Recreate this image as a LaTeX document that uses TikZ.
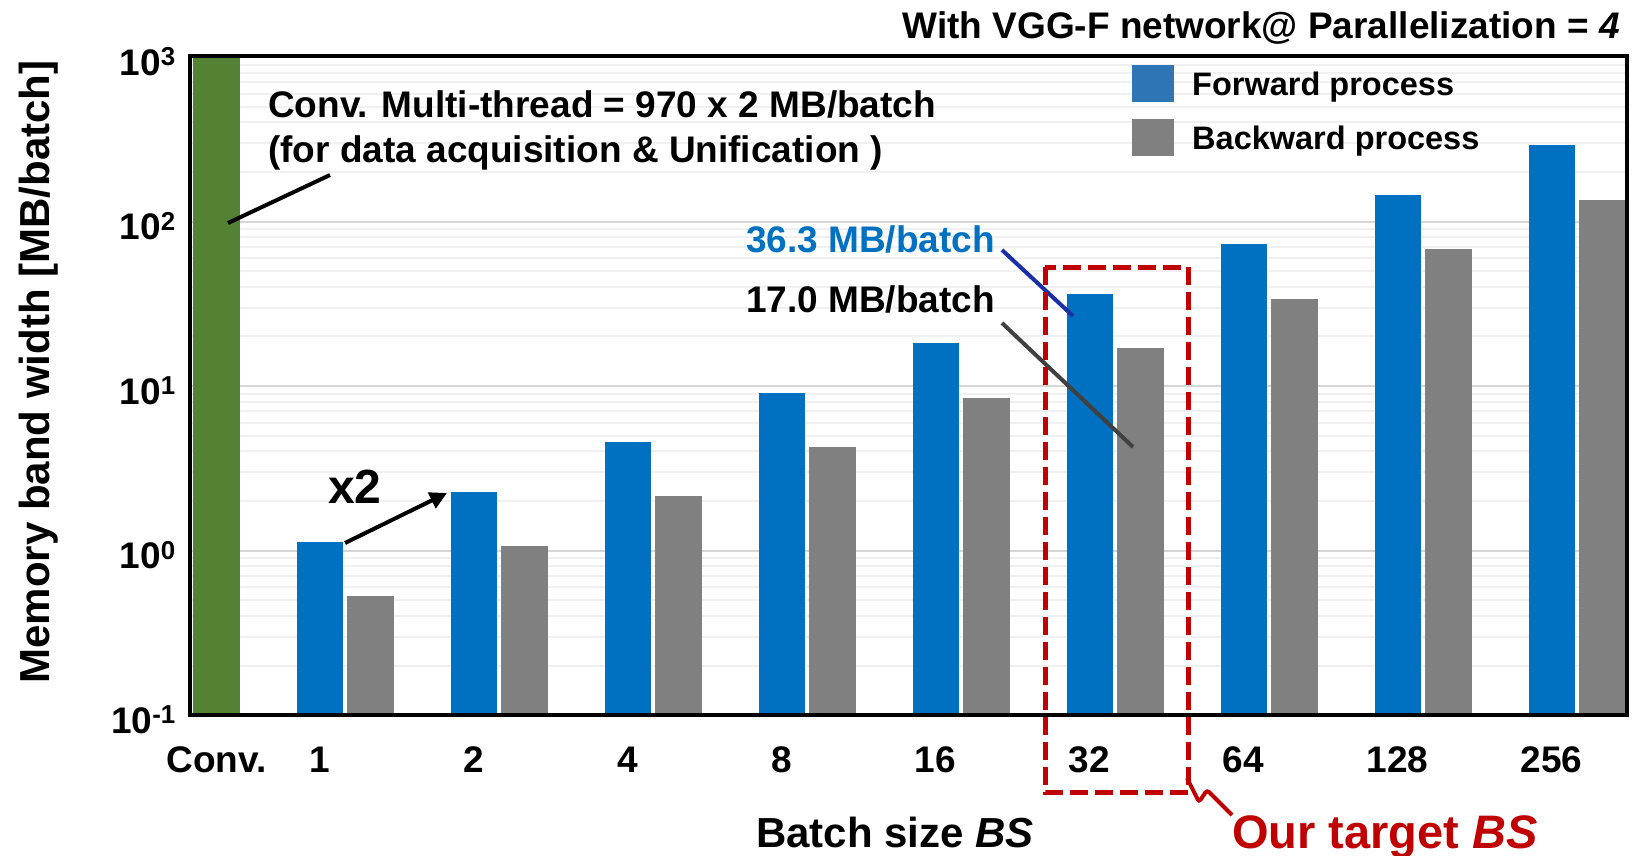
\documentclass[tikz,border=0pt]{standalone}
\usepackage{fontspec}
\setmainfont{Liberation Sans}
\usetikzlibrary{arrows.meta, positioning}

\definecolor{fwdblue}{HTML}{0070C0}
\definecolor{legblue}{HTML}{2E75B6}
\definecolor{bwdgray}{HTML}{808080}
\definecolor{convgreen}{HTML}{548235}
\definecolor{targetred}{HTML}{C00000}
\definecolor{leadblue}{HTML}{1A30A8}
\definecolor{leadgray}{HTML}{404040}

\begin{document}
\begin{tikzpicture}[
    x=1pt, y=-1pt,
    lbl/.style={font=\fontsize{37}{43}\selectfont\bfseries, inner sep=0pt},
    leglbl/.style={font=\fontsize{32.5}{38}\selectfont\bfseries, inner sep=0pt},
    axlbl/.style={font=\fontsize{42}{48}\selectfont\bfseries, inner sep=0pt},
    fwd/.style={fill=fwdblue},
    bwd/.style={fill=bwdgray},
    gridmajor/.style={draw=black!16, line width=2pt},
    gridminor/.style={draw=black!6, line width=2pt},
    arr/.style={-{Triangle[length=17pt, width=17pt]}, line width=4pt},
    lead/.style={line width=4pt},
    target/.style={draw=targetred, line width=5pt}
]
\useasboundingbox (0,0) rectangle (1632,855);

% grid lines (log axis, 164.5 per decade)
\foreach \d in {-1,0,1,2} {
  \foreach \m in {2,...,9} {
    \pgfmathsetmacro\gy{715-164.5*(\d+1+log10(\m))}
    \draw[gridminor] (190,\gy) -- (1627,\gy);
  }
}
\foreach \d in {1,2,3}
  \draw[gridmajor] (190,{715-164.5*\d}) -- (1627,{715-164.5*\d});

% bars
\fill[convgreen] (193,715) rectangle (240,57);
\foreach \k/\f/\b in {0/1.134/0.531, 1/2.27/1.06, 2/4.54/2.13, 3/9.08/4.25,
    4/18.15/8.5, 5/36.3/17.0, 6/72.6/34.0, 7/145.2/68.0, 8/290.4/136} {
  \pgfmathsetmacro\xb{296.5+154*\k}
  \fill[fwd] (\xb,715) rectangle ({\xb+46},{715-164.5*(log10(\f)+1)});
  \fill[bwd] ({\xb+50},715) rectangle ({\xb+97},{715-164.5*(log10(\b)+1)});
}

% frame
\draw[line width=4pt] (190,56) rectangle (1627,715);

% y ticks
\foreach \e in {-1,0,1,2,3}
  \node[lbl, anchor=base east] (ytick\e) at (176,{733-164.5*(\e+1)}) {10\textsuperscript{\e}};

% x ticks
\node[lbl, anchor=base] (xtconv) at (216.5,772) {Conv.};
\foreach \k/\bs in {0/1, 1/2, 2/4, 3/8, 4/16, 5/32, 6/64, 7/128, 8/256}
  \node[lbl, anchor=base] (xt\bs) at ({319.5+154*\k},772) {\bs};

% axis titles
\node[axlbl, anchor=base, rotate=90] (ylabel) at (49,372) {Memory band width [MB/batch]};
\node[axlbl, anchor=base] (xlabel) at (895,847) {Batch size \textit{BS}};
\node[lbl, anchor=base east] (title) at (1620,38) {With VGG-F network@ Parallelization = \textit{4}};

% legend
\fill[legblue] (1132,65) rectangle (1174,102);
\fill[bwdgray] (1132,119) rectangle (1174,156);
\node[leglbl, anchor=base west] (legfwd) at (1192,95) {Forward process};
\node[leglbl, anchor=base west] (legbwd) at (1192,149) {Backward process};

% annotations
\node[lbl, font=\fontsize{37}{45}\selectfont\bfseries, anchor=base west, align=left] (convtxt) at (268,162)
  {Conv. Multi-thread = 970 x 2 MB/batch\\(for data acquisition \& Unification )};
\coordinate (convbar) at (228,223);
\coordinate (convend) at (330,175);
\draw[lead] (convbar) -- (convend);

\node[lbl, font=\fontsize{48}{52}\selectfont\bfseries, anchor=base] (twice) at (355,503) {x2};
\coordinate (x2from) at (345,543);
\coordinate (x2to) at (447,493);
\draw[arr] (x2from) -- (x2to);

\node[lbl, anchor=base west, text=fwdblue] (fwdval) at (746,252) {36.3 MB/batch};
\node[lbl, anchor=base west] (bwdval) at (746,312) {17.0 MB/batch};
\coordinate (fwdend) at (1002,250);
\coordinate (fwdbar) at (1073,316);
\coordinate (bwdend) at (1002,323);
\coordinate (bwdbar) at (1133,447);
\draw[lead, draw=leadblue] (fwdend) -- (fwdbar);
\draw[lead, draw=leadgray] (bwdend) -- (bwdbar);

% target box
\draw[target, dash pattern=on 18pt off 7pt] (1045,267) rectangle (1188,792);
\node[font=\fontsize{47}{52}\selectfont\bfseries, inner sep=0pt, anchor=base west, text=targetred]
  (tgt) at (1232,848) {Our target \textit{BS}};
\coordinate (boxcorner) at (1187,778);
\draw[target, line width=4pt, rounded corners=3pt] (boxcorner) -- (1199,802) -- (1207,790) -- (tgt.north west);
\end{tikzpicture}
\end{document}
